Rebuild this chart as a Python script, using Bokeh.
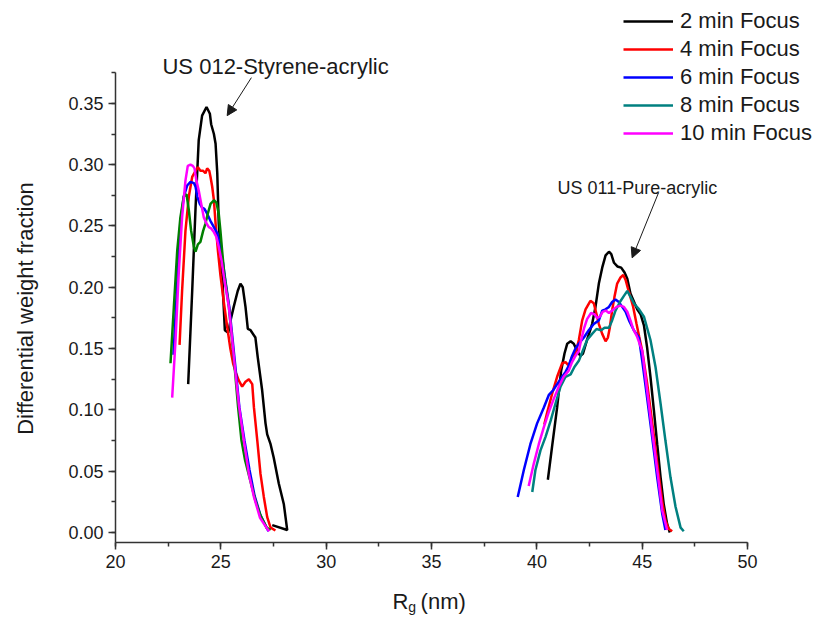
import math
from bokeh.plotting import figure
from bokeh.layouts import column, row
from bokeh.models import (Range1d, Legend, LegendItem, Label, Arrow, NormalHead,
                          FixedTicker, NumeralTickFormatter)
from bokeh.embed import file_html
from bokeh.resources import INLINE

FONT = "Liberation Sans"
TXT = "#1a1a1a"

# ---------------- data ----------------
series_labels = ["2 min Focus", "4 min Focus", "6 min Focus", "8 min Focus", "10 min Focus"]

# 2 min Focus
m2_left_x = [23.45, 23.64, 23.80, 23.95, 24.11, 24.32, 24.48, 24.54, 24.67, 24.75, 24.83, 24.90, 25.06,
             25.19, 25.35, 25.46, 25.61, 25.80, 25.93, 26.04, 26.17, 26.28, 26.41, 26.64, 26.75, 26.96,
             27.12, 27.20, 27.36, 27.51, 27.75, 27.99, 28.15, 27.44]
m2_left_y = [0.121, 0.197, 0.265, 0.320, 0.340, 0.347, 0.3415, 0.333, 0.325, 0.317, 0.293, 0.252, 0.211,
             0.165, 0.163, 0.173, 0.184, 0.197, 0.203, 0.200, 0.184, 0.166, 0.165, 0.159, 0.143, 0.116,
             0.089, 0.080, 0.072, 0.061, 0.040, 0.023, 0.002, 0.006]
m2_right_x = [40.52, 40.72, 40.96, 41.15, 41.31, 41.44, 41.60, 41.75, 41.91, 42.07, 42.19, 42.38, 42.62,
              42.78, 42.94, 43.10, 43.26, 43.42, 43.53, 43.66, 43.82, 44.00, 44.16, 44.29, 44.44, 44.76,
              44.92, 45.08, 45.23, 45.39, 45.55, 45.71, 45.87, 46.02, 46.18, 46.31]
m2_right_y = [0.043, 0.070, 0.102, 0.132, 0.146, 0.154, 0.156, 0.154, 0.148, 0.144, 0.146, 0.157, 0.170,
              0.184, 0.203, 0.216, 0.226, 0.229, 0.227, 0.220, 0.217, 0.216, 0.212, 0.207, 0.195, 0.182,
              0.178, 0.169, 0.151, 0.127, 0.100, 0.072, 0.045, 0.023, 0.007, 0.000]

# 4 min Focus
m4_left_x = [23.04, 23.16, 23.32, 23.48, 23.64, 23.80, 23.91, 24.03, 24.16, 24.27, 24.35, 24.45, 24.51,
             24.59, 24.67, 24.75, 24.86, 24.98, 25.14, 25.30, 25.45, 25.58, 25.72, 25.85, 26.01, 26.17,
             26.33, 26.49, 26.57, 26.73, 26.88, 27.04, 27.20, 27.36, 27.59]
m4_left_y = [0.153, 0.197, 0.246, 0.274, 0.290, 0.295, 0.298, 0.295, 0.295, 0.293, 0.297, 0.295, 0.290,
             0.282, 0.271, 0.252, 0.230, 0.210, 0.188, 0.168, 0.150, 0.138, 0.130, 0.124, 0.119, 0.123,
             0.125, 0.121, 0.102, 0.075, 0.048, 0.029, 0.0125, 0.004, 0.0016]
m4_right_x = [40.35, 40.49, 40.72, 40.96, 41.20, 41.36, 41.51, 41.67, 41.83, 41.99, 42.15, 42.31, 42.54,
              42.70, 42.83, 42.94, 43.10, 43.26, 43.37, 43.46, 43.57, 43.68, 43.81, 43.97, 44.10, 44.21,
              44.32, 44.44, 44.57, 44.73, 44.85, 45.00, 45.23, 45.47, 45.71, 45.95, 46.10, 46.25, 46.42]
m4_right_y = [0.088, 0.098, 0.113, 0.127, 0.138, 0.139, 0.136, 0.143, 0.146, 0.157, 0.173, 0.182, 0.189,
              0.187, 0.178, 0.170, 0.162, 0.156, 0.159, 0.167, 0.181, 0.192, 0.203, 0.208, 0.210, 0.206,
              0.199, 0.192, 0.184, 0.170, 0.160, 0.148, 0.122, 0.090, 0.057, 0.025, 0.010, 0.003, 0.001]

# 6 min Focus
m6_left_x = [22.75, 22.92, 23.08, 23.24, 23.40, 23.56, 23.72, 23.80, 23.88, 24.00, 24.11, 24.22, 24.35,
             24.51, 24.67, 24.83, 24.98, 25.11, 25.22, 25.40, 25.56, 25.72, 25.88, 26.12, 26.36, 26.60,
             26.88, 27.17, 27.26]
m6_left_y = [0.145, 0.200, 0.252, 0.274, 0.283, 0.286, 0.285, 0.282, 0.274, 0.268, 0.265, 0.264, 0.260,
             0.254, 0.249, 0.244, 0.233, 0.219, 0.205, 0.184, 0.157, 0.130, 0.102, 0.075, 0.051, 0.030,
             0.014, 0.004, 0.001]
m6_right_x = [39.09, 39.38, 39.69, 40.01, 40.33, 40.56, 40.77, 40.96, 41.20, 41.36, 41.51, 41.67, 41.83,
              41.99, 42.23, 42.46, 42.70, 42.94, 43.10, 43.26, 43.42, 43.57, 43.73, 43.89, 44.05, 44.21,
              44.37, 44.60, 44.84, 45.00, 45.23, 45.47, 45.71, 45.95, 46.10]
m6_right_y = [0.029, 0.051, 0.072, 0.089, 0.102, 0.112, 0.116, 0.121, 0.127, 0.131, 0.136, 0.144, 0.150,
              0.154, 0.159, 0.165, 0.170, 0.173, 0.181, 0.182, 0.184, 0.188, 0.190, 0.188, 0.184, 0.180,
              0.173, 0.165, 0.159, 0.140, 0.110, 0.078, 0.045, 0.015, 0.002]

# 8 min Focus
m8_left_x = [22.61, 22.77, 22.93, 23.08, 23.24, 23.37, 23.48, 23.59, 23.72, 23.80, 23.91, 24.03, 24.16,
             24.27, 24.38, 24.51, 24.67, 24.79, 24.90, 24.98, 25.06, 25.16, 25.38, 25.53, 25.68, 25.82,
             25.98, 26.15, 26.40, 26.64, 26.88, 27.17, 27.36]
m8_left_y = [0.138, 0.184, 0.230, 0.257, 0.274, 0.276, 0.263, 0.246, 0.233, 0.229, 0.235, 0.237, 0.246,
             0.252, 0.260, 0.268, 0.271, 0.269, 0.260, 0.246, 0.230, 0.211, 0.184, 0.157, 0.130, 0.102,
             0.075, 0.059, 0.042, 0.026, 0.014, 0.004, 0.002]
m8_right_x = [39.78, 39.93, 40.17, 40.41, 40.65, 40.88, 41.12, 41.36, 41.60, 41.78, 41.99, 42.15, 42.38,
              42.62, 42.83, 43.05, 43.21, 43.42, 43.57, 43.73, 43.94, 44.13, 44.29, 44.45, 44.60, 44.85,
              45.08, 45.39, 45.63, 45.87, 46.10, 46.34, 46.58, 46.82, 46.97]
m8_right_y = [0.033, 0.051, 0.067, 0.078, 0.091, 0.105, 0.119, 0.127, 0.129, 0.135, 0.140, 0.147, 0.157,
              0.162, 0.166, 0.165, 0.167, 0.167, 0.173, 0.181, 0.188, 0.193, 0.197, 0.192, 0.187, 0.182,
              0.176, 0.157, 0.135, 0.105, 0.075, 0.045, 0.021, 0.004, 0.001]

# 10 min Focus
m10_left_x = [22.69, 22.85, 23.00, 23.16, 23.32, 23.43, 23.56, 23.67, 23.75, 23.84, 23.95, 24.07, 24.19,
              24.32, 24.43, 24.54, 24.67, 24.79, 24.90, 25.03, 25.15, 25.38, 25.54, 25.70, 25.87, 26.09,
              26.33, 26.57, 26.86, 27.20, 27.30]
m10_left_y = [0.110, 0.157, 0.211, 0.257, 0.287, 0.299, 0.300, 0.299, 0.297, 0.287, 0.279, 0.268, 0.257,
              0.252, 0.249, 0.248, 0.245, 0.241, 0.233, 0.222, 0.208, 0.184, 0.157, 0.129, 0.102, 0.075,
              0.048, 0.029, 0.012, 0.003, 0.001]
m10_right_x = [39.61, 39.85, 40.09, 40.33, 40.56, 40.80, 41.04, 41.27, 41.51, 41.67, 41.83, 41.99, 42.10,
               42.23, 42.38, 42.57, 42.73, 42.86, 42.99, 43.12, 43.27, 43.42, 43.57, 43.78, 43.97, 44.13,
               44.29, 44.44, 44.57, 44.75, 45.00, 45.23, 45.47, 45.71, 45.95, 46.18]
m10_right_y = [0.038, 0.056, 0.072, 0.086, 0.098, 0.109, 0.119, 0.127, 0.132, 0.139, 0.144, 0.148, 0.157,
               0.166, 0.174, 0.179, 0.178, 0.175, 0.176, 0.180, 0.181, 0.179, 0.181, 0.184, 0.185, 0.184,
               0.180, 0.173, 0.166, 0.160, 0.148, 0.116, 0.083, 0.051, 0.018, 0.002]

x_ticks = [20, 25, 30, 35, 40, 45, 50]
y_ticks = [0.00, 0.05, 0.10, 0.15, 0.20, 0.25, 0.30, 0.35]
x_axis_bounds = (20, 50)
y_axis_bounds = (-0.0082, 0.3752)

STRIP_W = 46          # left strip holding the y-axis title
MAIN_W = 818 - STRIP_W
LEFT_B = 115 - STRIP_W

# ---------------- main figure ----------------
# frame reaches the top/right canvas edges so that legend and notes are not clipped;
# the drawn axes are limited with `bounds`
x_rng = Range1d(20, 53.365)
p = figure(width=MAIN_W, height=580, output_backend="svg", toolbar_location=None, title=None,
           x_range=x_rng, y_range=Range1d(-0.00816, 0.4339),
           min_border_left=LEFT_B, min_border_right=0, min_border_top=0, min_border_bottom=38)
p.grid.visible = False
p.outline_line_color = None
p.background_fill_color = "white"
p.border_fill_color = "white"

for ax in (p.xaxis[0], p.yaxis[0]):
    ax.axis_line_color = "#333333"
    ax.axis_line_width = 1.5
    ax.major_tick_line_color = "#333333"
    ax.minor_tick_line_color = "#333333"
    ax.major_tick_line_width = 1.5
    ax.minor_tick_line_width = 1.5
    ax.major_tick_in = 0
    ax.major_tick_out = 7
    ax.minor_tick_in = 0
    ax.minor_tick_out = 4
    ax.major_label_text_font = FONT
    ax.major_label_text_font_size = "18px"
    ax.major_label_text_color = TXT
    ax.major_label_standoff = 5

p.xaxis.bounds = x_axis_bounds
p.yaxis.bounds = y_axis_bounds
p.xaxis.ticker = FixedTicker(ticks=x_ticks, minor_ticks=[20 + 2.5 * i for i in range(13)])
p.yaxis.ticker = FixedTicker(ticks=y_ticks, minor_ticks=[0.025 * i for i in range(16)])
p.yaxis.formatter = NumeralTickFormatter(format="0.00")

LW = 2.5
specs = [
    (m2_left_x, m2_left_y, m2_right_x, m2_right_y, "#000000", "#000000"),
    (m4_left_x, m4_left_y, m4_right_x, m4_right_y, "#ff0000", "#ff0000"),
    (m6_left_x, m6_left_y, m6_right_x, m6_right_y, "#0000ff", "#0000ff"),
    (m8_left_x, m8_left_y, m8_right_x, m8_right_y, "#008000", "#008080"),
    (m10_left_x, m10_left_y, m10_right_x, m10_right_y, "#ff00ff", "#ff00ff"),
]
items = []
for label, (lx, ly, rx, ry, cl, cr) in zip(series_labels, specs):
    p.line(lx, ly, line_color=cl, line_width=LW)
    r = p.line(rx, ry, line_color=cr, line_width=LW)
    items.append(LegendItem(label=label, renderers=[r]))

legend = Legend(items=items, location=(508, 396), orientation="vertical",
                glyph_width=50, glyph_height=20, label_height=20, label_standoff=7,
                spacing=2, padding=0, margin=0,
                label_text_font=FONT, label_text_font_size="22px", label_text_color=TXT,
                border_line_color=None, background_fill_alpha=0)
p.add_layout(legend)

# annotations
p.add_layout(Label(x=22.23, y=0.380, text="US 012-Styrene-acrylic", text_font=FONT,
                   text_font_size="22px", text_color=TXT, text_baseline="alphabetic"))
p.add_layout(Label(x=40.98, y=0.2806, text="US 011-Pure-acrylic", text_font=FONT,
                   text_font_size="18px", text_color=TXT, text_baseline="alphabetic"))
p.add_layout(Arrow(end=NormalHead(size=10, fill_color=TXT, line_color=TXT),
                   x_start=26.45, y_start=0.371, x_end=25.30, y_end=0.340,
                   line_color=TXT, line_width=1))
p.add_layout(Arrow(end=NormalHead(size=10, fill_color=TXT, line_color=TXT),
                   x_start=45.77, y_start=0.277, x_end=44.52, y_end=0.224,
                   line_color=TXT, line_width=1))

# ---------------- x-axis title strip: R_g (nm) ----------------
p2 = figure(width=MAIN_W, height=39, output_backend="svg", toolbar_location=None, title=None,
            x_range=x_rng, y_range=Range1d(0, 39), x_axis_type=None, y_axis_type=None,
            min_border_left=LEFT_B, min_border_right=0, min_border_top=0, min_border_bottom=0)
p2.grid.visible = False
p2.outline_line_color = None
p2.border_fill_color = "white"
p2.add_layout(Label(x=33.15, y=18, text="R", text_font=FONT, text_font_size="22px",
                    text_color=TXT, text_baseline="alphabetic"))
p2.add_layout(Label(x=33.90, y=13, text="g", text_font=FONT, text_font_size="14px",
                    text_color=TXT, text_baseline="alphabetic"))
p2.add_layout(Label(x=34.48, y=18, text="(nm)", text_font=FONT, text_font_size="22px",
                    text_color=TXT, text_baseline="alphabetic"))

# ---------------- y-axis title strip ----------------
p3 = figure(width=STRIP_W, height=619, output_backend="svg", toolbar_location=None, title=None,
            x_range=Range1d(0, STRIP_W), y_range=Range1d(0, 619), x_axis_type=None, y_axis_type=None,
            min_border_left=0, min_border_right=0, min_border_top=0, min_border_bottom=0)
p3.grid.visible = False
p3.outline_line_color = None
p3.border_fill_color = "white"
p3.add_layout(Label(x=25, y=311, text="Differential weight fraction", angle=math.pi / 2,
                    text_font=FONT, text_font_size="22px", text_color=TXT,
                    text_align="center", text_baseline="middle"))

layout = row(p3, column(p, p2, spacing=0), spacing=0)
open("out.html", "w").write(file_html(layout, INLINE))
